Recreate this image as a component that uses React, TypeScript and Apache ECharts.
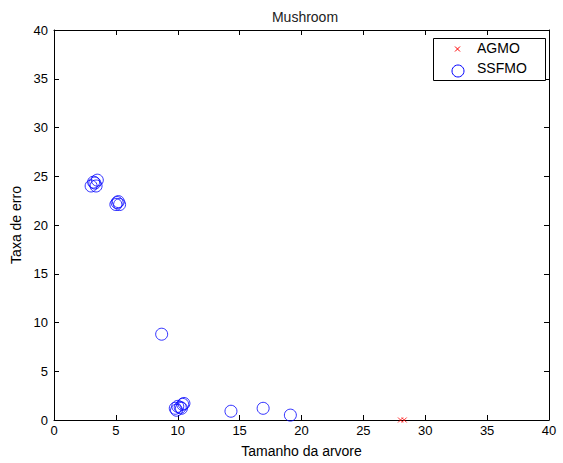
import React, { useEffect, useRef } from "react";
import * as echarts from "echarts";

const agmoX = [28.0, 28.3];
const agmoY = [0, 0];
const ssfmoX = [3.0, 3.3, 3.4, 3.5, 3.2, 5.0, 5.2, 5.3, 5.1, 8.7, 9.8, 10.0, 10.2, 10.4, 10.5, 10.3, 9.9, 14.3, 16.9, 19.1];
const ssfmoY = [24.0, 24.3, 24.0, 24.6, 24.4, 22.1, 22.4, 22.1, 22.3, 8.8, 1.2, 1.4, 1.3, 1.6, 1.7, 1.2, 1.0, 0.9, 1.2, 0.5];
const seriesNames = ["AGMO", "SSFMO"];
const titleText = "Mushroom";
const xName = "Tamanho da arvore";
const yName = "Taxa de erro";

const FONT = "'Liberation Sans', Arial, sans-serif";
const CROSS = "path://M0,0L10,10M10,0L0,10";

export default function App() {
  const ref = useRef<HTMLDivElement>(null);
  useEffect(() => {
    const chart = echarts.init(ref.current!, undefined, { renderer: "svg" });
    const axisCommon = {
      min: 0,
      max: 40,
      interval: 5,
      axisLine: { show: true, onZero: false, lineStyle: { color: "#000", width: 1 } },
      axisTick: { show: true, inside: true, length: 5, lineStyle: { color: "#000" } },
      splitLine: { show: false },
    };
    chart.setOption({
      animation: false,
      backgroundColor: "#fff",
      title: {
        text: titleText,
        left: 300,
        textAlign: "center",
        top: 5,
        textStyle: { fontFamily: FONT, fontSize: 14, fontWeight: "normal", color: "#222" },
      },
      grid: { left: 54, top: 30, right: 14, bottom: 42, containLabel: false },
      xAxis: [
        {
          ...axisCommon,
          type: "value",
          position: "bottom",
          name: xName,
          nameLocation: "middle",
          nameGap: 24,
          nameTextStyle: { fontFamily: FONT, fontSize: 14, color: "#000" },
          axisLabel: { fontFamily: FONT, fontSize: 13, color: "#000", margin: 4 },
        },
        {
          ...axisCommon,
          type: "value",
          position: "top",
          axisLabel: { show: false },
        },
      ],
      yAxis: [
        {
          ...axisCommon,
          type: "value",
          position: "left",
          name: yName,
          nameLocation: "middle",
          nameGap: 29,
          nameTextStyle: { fontFamily: FONT, fontSize: 14, color: "#000" },
          axisLabel: { fontFamily: FONT, fontSize: 13, color: "#000", margin: 6 },
        },
        {
          ...axisCommon,
          type: "value",
          position: "right",
          axisLabel: { show: false },
        },
      ],
      series: [
        {
          name: seriesNames[0],
          type: "scatter",
          symbol: CROSS,
          symbolSize: 5,
          itemStyle: { color: "transparent", borderColor: "#ff0000", borderWidth: 1 },
          data: agmoX.map((x, i) => [x, agmoY[i]]),
          clip: false,
        },
        {
          name: seriesNames[1],
          type: "scatter",
          symbol: "circle",
          symbolSize: 12,
          itemStyle: { color: "transparent", borderColor: "#0000ff", borderWidth: 1 },
          data: ssfmoX.map((x, i) => [x, ssfmoY[i]]),
          clip: false,
        },
      ],
      graphic: [
        {
          type: "rect",
          shape: { x: 433.5, y: 38.5, width: 112, height: 42 },
          style: { fill: "#fff", stroke: "#000", lineWidth: 1 },
          z: 10,
        },
        {
          type: "line",
          shape: { x1: 455, y1: 46.5, x2: 460, y2: 51.5 },
          style: { stroke: "#ff0000", lineWidth: 1 },
          z: 11,
        },
        {
          type: "line",
          shape: { x1: 460, y1: 46.5, x2: 455, y2: 51.5 },
          style: { stroke: "#ff0000", lineWidth: 1 },
          z: 11,
        },
        {
          type: "circle",
          shape: { cx: 458, cy: 71, r: 6 },
          style: { fill: "none", stroke: "#0000ff", lineWidth: 1 },
          z: 11,
        },
        {
          type: "text",
          x: 477,
          y: 48,
          style: { text: seriesNames[0], font: `14px ${FONT}`, fill: "#000", textVerticalAlign: "middle" },
          z: 11,
        },
        {
          type: "text",
          x: 477,
          y: 68,
          style: { text: seriesNames[1], font: `14px ${FONT}`, fill: "#000", textVerticalAlign: "middle" },
          z: 11,
        },
      ],
    });
    return () => chart.dispose();
  }, []);
  return <div ref={ref} style={{ width: 563, height: 463, position: "absolute", left: 0, top: 0 }} />;
}
